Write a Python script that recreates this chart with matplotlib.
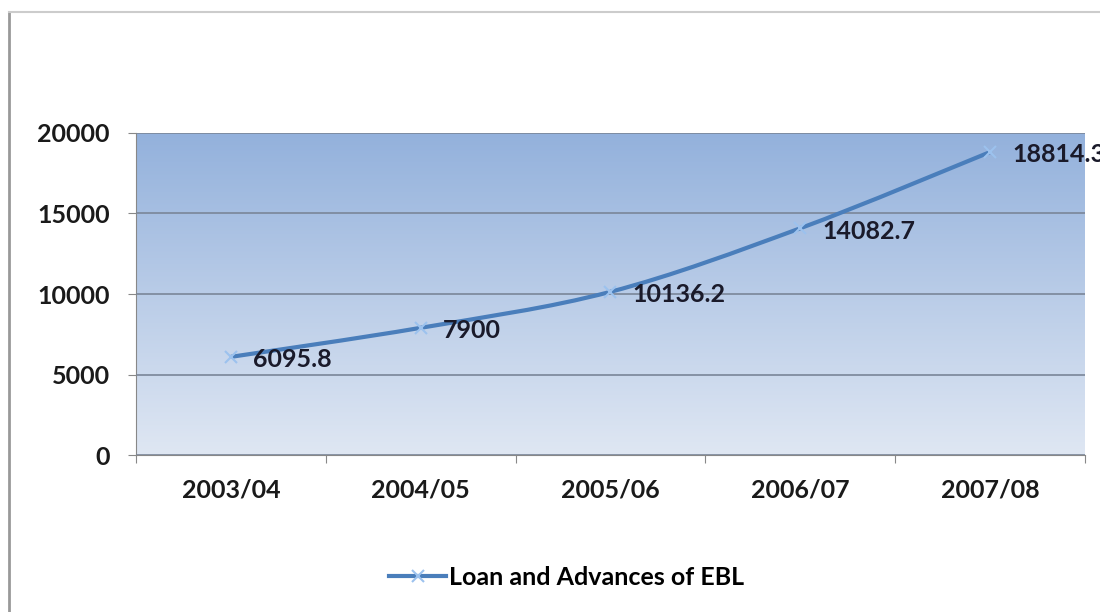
import numpy as np
import matplotlib
matplotlib.use("Agg")
import matplotlib.pyplot as plt
from matplotlib.path import Path
from matplotlib.patches import PathPatch
from matplotlib.lines import Line2D

years = ['2003/04', '2004/05', '2005/06', '2006/07', '2007/08']
loans = [6095.8, 7900, 10136.2, 14082.7, 18814.3]
label_txt = ['6095.8', '7900', '10136.2', '14082.7', '18814.3']
series_name = 'Loan and Advances of EBL'

plt.rcParams['font.family'] = ['Lato', 'DejaVu Sans']

fig = plt.figure(figsize=(11, 6.12), dpi=100)
ax = fig.add_axes([0.1236, 0.2565, 0.8627, 0.5262])

x = np.arange(len(years))
ax.set_xlim(-0.5, 4.5)
ax.set_ylim(0, 20000)

# gradient plot area
grad = np.linspace(0, 1, 256).reshape(-1, 1)
cmap = matplotlib.colors.LinearSegmentedColormap.from_list('g', ['#dfe7f3', '#93b1dc'])
ax.imshow(grad, aspect='auto', cmap=cmap, origin='lower',
          extent=[-0.5, 4.5, 0, 20000], zorder=0)

ax.set_yticks([0, 5000, 10000, 15000, 20000])
ax.yaxis.grid(True, color='#7a8698', linewidth=1.2)
ax.set_axisbelow(False)
for gl in ax.get_ygridlines():
    gl.set_zorder(1)

# smooth line through points (cardinal spline rendered as bezier path)
pts = np.column_stack([x, loans]).astype(float)
verts = [tuple(pts[0])]
codes = [Path.MOVETO]
t = 1 / 6
for i in range(len(pts) - 1):
    p0 = pts[i - 1] if i > 0 else pts[i]
    p1, p2 = pts[i], pts[i + 1]
    p3 = pts[i + 2] if i + 2 < len(pts) else pts[i + 1]
    c1 = p1 + (p2 - p0) * t
    c2 = p2 - (p3 - p1) * t
    verts += [tuple(c1), tuple(c2), tuple(p2)]
    codes += [Path.CURVE4] * 3
ax.add_patch(PathPatch(Path(verts, codes), fill=False, edgecolor='#4a7ebb',
                       linewidth=3, zorder=3))
ax.plot(x, loans, linestyle='none', marker='x', color='#9cc2ee',
        markersize=8, markeredgewidth=1.5, zorder=4)

for xi, yi, s in zip(x, loans, label_txt):
    ax.annotate(s, (xi, yi), xytext=(16, -2), textcoords='offset points',
                ha='left', va='center', fontsize=18, fontweight='bold',
                color='#1a1a2a', zorder=5, annotation_clip=False)

ax.set_xticks(np.arange(-0.5, 5, 1), minor=False)
ax.set_xticklabels([])
ax.set_xticks(x, minor=True)
ax.set_xticklabels(years, minor=True)
ax.tick_params(axis='x', which='major', length=6, color='#888888')
ax.tick_params(axis='x', which='minor', length=0, pad=17, labelsize=18)
ax.tick_params(axis='y', length=6, color='#888888', labelsize=18, pad=13)
for lab in ax.get_xticklabels(minor=True) + ax.get_yticklabels():
    lab.set_fontweight('bold')
    lab.set_color('#1a1a1a')

for side in ['top', 'right']:
    ax.spines[side].set_visible(False)
ax.spines['left'].set_color('#888888')
ax.spines['bottom'].set_color('#888888')

handle = Line2D([], [], color='#4a7ebb', linewidth=3, marker='x',
                markeredgecolor='#9cc2ee', markersize=8, markeredgewidth=1.5)
fig.legend([handle], [series_name], loc='center', bbox_to_anchor=(0.515, 0.057),
           frameon=False, prop={'size': 18, 'weight': 'bold'}, handlelength=2.3,
           handletextpad=0.1)

# outer chart frame
fig.add_artist(Line2D([0.008, 0.008], [0, 0.981], color='#999999', linewidth=2,
                      transform=fig.transFigure))
fig.add_artist(Line2D([0.008, 1], [0.981, 0.981], color='#cccccc', linewidth=1.5,
                      transform=fig.transFigure))

fig.savefig('out.png', dpi=100)
